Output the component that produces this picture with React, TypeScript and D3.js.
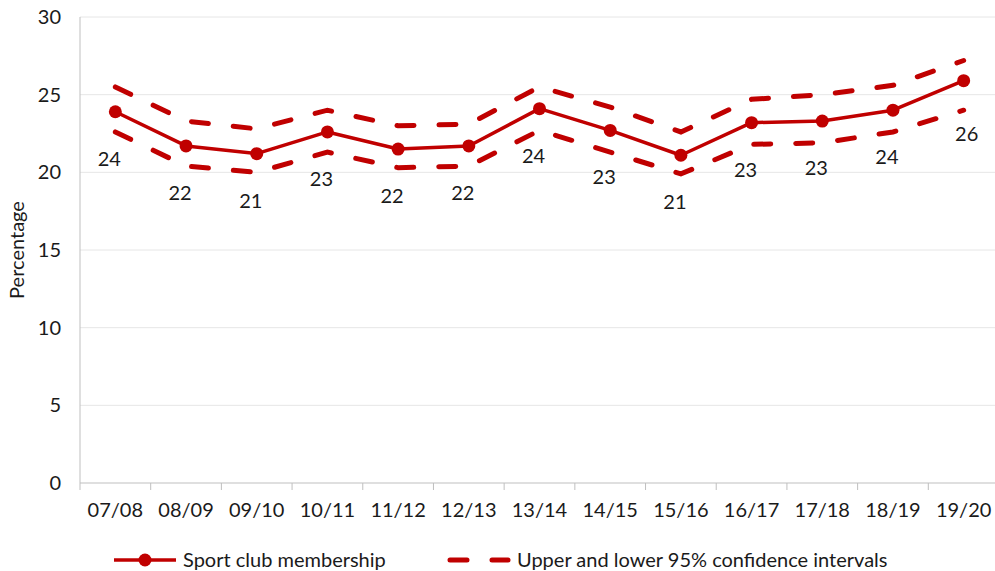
import * as d3 from "d3";
import { useEffect, useRef } from "react";

const seasons = ["07/08", "08/09", "09/10", "10/11", "11/12", "12/13", "13/14", "14/15", "15/16", "16/17", "17/18", "18/19", "19/20"];
const membership = [23.9, 21.7, 21.2, 22.6, 21.5, 21.7, 24.1, 22.7, 21.1, 23.2, 23.3, 24.0, 25.9];
const upperCI = [25.5, 23.3, 22.8, 24.0, 23.0, 23.1, 25.5, 24.2, 22.6, 24.7, 25.0, 25.6, 27.2];
const lowerCI = [22.6, 20.4, 20.0, 21.3, 20.3, 20.4, 22.7, 21.3, 19.9, 21.8, 21.9, 22.6, 24.0];
const yTicks = [0, 5, 10, 15, 20, 25, 30];

const RED = "#C00000";
const FONT = "Lato, 'Open Sans', sans-serif";
const FS = 20;

const App = () => {
  const ref = useRef<SVGSVGElement | null>(null);

  useEffect(() => {
    const svg = d3.select(ref.current);
    svg.selectAll("*").remove();

    const width = 995,
      height = 571;
    const left = 80,
      right = 999,
      top = 17,
      bottom = 483;

    const x = d3.scaleBand<string>().domain(seasons).range([left, right]);
    const y = d3.scaleLinear().domain([0, 30]).range([bottom, top]);
    const cx = (i: number) => (x(seasons[i]) as number) + x.bandwidth() / 2;

    svg.attr("width", width).attr("height", height);

    // gridlines
    svg
      .append("g")
      .selectAll("line")
      .data(yTicks.filter((t) => t > 0))
      .enter()
      .append("line")
      .attr("x1", left)
      .attr("x2", right)
      .attr("y1", (d) => y(d))
      .attr("y2", (d) => y(d))
      .attr("stroke", "#e6e6e6")
      .attr("stroke-width", 1);

    // y tick labels
    svg
      .append("g")
      .selectAll("text")
      .data(yTicks)
      .enter()
      .append("text")
      .attr("x", 61)
      .attr("y", (d) => y(d))
      .attr("dy", "0.35em")
      .attr("text-anchor", "end")
      .attr("font-family", FONT)
      .attr("font-size", FS)
      .attr("fill", "#1a1a1a")
      .text((d) => d);

    // axes lines
    svg
      .append("line")
      .attr("x1", left)
      .attr("x2", left)
      .attr("y1", top)
      .attr("y2", bottom)
      .attr("stroke", "#bfbfbf");
    svg
      .append("line")
      .attr("x1", left)
      .attr("x2", right)
      .attr("y1", bottom)
      .attr("y2", bottom)
      .attr("stroke", "#bfbfbf");

    // x ticks at band boundaries
    const bounds = seasons.map((s) => x(s) as number).concat([right]);
    svg
      .append("g")
      .selectAll("line")
      .data(bounds)
      .enter()
      .append("line")
      .attr("x1", (d) => d)
      .attr("x2", (d) => d)
      .attr("y1", bottom)
      .attr("y2", bottom + 7)
      .attr("stroke", "#bfbfbf");

    svg
      .append("g")
      .selectAll("text")
      .data(seasons)
      .enter()
      .append("text")
      .attr("x", (d, i) => cx(i))
      .attr("y", 517)
      .attr("text-anchor", "middle")
      .attr("font-family", FONT)
      .attr("font-size", FS)
      .attr("fill", "#1a1a1a")
      .text((d) => d);

    // y title
    svg
      .append("text")
      .attr("transform", `translate(24, ${(top + bottom) / 2}) rotate(-90)`)
      .attr("text-anchor", "middle")
      .attr("font-family", FONT)
      .attr("font-size", FS)
      .attr("fill", "#1a1a1a")
      .text("Percentage");

    const line = d3
      .line<number>()
      .x((d, i) => cx(i))
      .y((d) => y(d));

    [upperCI, lowerCI].forEach((ci) => {
      svg
        .append("path")
        .attr("d", line(ci))
        .attr("fill", "none")
        .attr("stroke", RED)
        .attr("stroke-width", 5)
        .attr("stroke-linecap", "round")
        .attr("stroke-dasharray", "17,25");
    });

    svg
      .append("path")
      .attr("d", line(membership))
      .attr("fill", "none")
      .attr("stroke", RED)
      .attr("stroke-width", 3.5)
      .attr("stroke-linejoin", "round");

    svg
      .append("g")
      .selectAll("circle")
      .data(membership)
      .enter()
      .append("circle")
      .attr("cx", (d, i) => cx(i))
      .attr("cy", (d) => y(d))
      .attr("r", 6.5)
      .attr("fill", RED);

    const last = membership.length - 1;
    svg
      .append("g")
      .selectAll("text")
      .data(membership)
      .enter()
      .append("text")
      .attr("x", (d, i) => cx(i) + (i === last ? 3 : -6))
      .attr("y", (d, i) => y(d) + (i === last ? 53 : 47))
      .attr("dy", "0.35em")
      .attr("text-anchor", "middle")
      .attr("font-family", FONT)
      .attr("font-size", FS)
      .attr("fill", "#1a1a1a")
      .text((d) => Math.round(d));

    // legend
    const ly = 560;
    const lg = svg.append("g");
    lg.append("line")
      .attr("x1", 114)
      .attr("x2", 176)
      .attr("y1", ly)
      .attr("y2", ly)
      .attr("stroke", RED)
      .attr("stroke-width", 3.5);
    lg.append("circle").attr("cx", 145).attr("cy", ly).attr("r", 6.5).attr("fill", RED);
    lg.append("text")
      .attr("x", 183)
      .attr("y", ly)
      .attr("dy", "0.35em")
      .attr("font-family", FONT)
      .attr("font-size", FS)
      .attr("fill", "#1a1a1a")
      .text("Sport club membership");
    lg.append("line")
      .attr("x1", 450)
      .attr("x2", 508)
      .attr("y1", ly)
      .attr("y2", ly)
      .attr("stroke", RED)
      .attr("stroke-width", 5)
      .attr("stroke-linecap", "round")
      .attr("stroke-dasharray", "17,25");
    lg.append("text")
      .attr("x", 517)
      .attr("y", ly)
      .attr("dy", "0.35em")
      .attr("font-family", FONT)
      .attr("font-size", FS)
      .attr("fill", "#1a1a1a")
      .text("Upper and lower 95% confidence intervals");
  }, []);

  return (
    <svg
      ref={ref}
      style={{ position: "absolute", left: 0, top: 0, display: "block" }}
    ></svg>
  );
};

export default App;
